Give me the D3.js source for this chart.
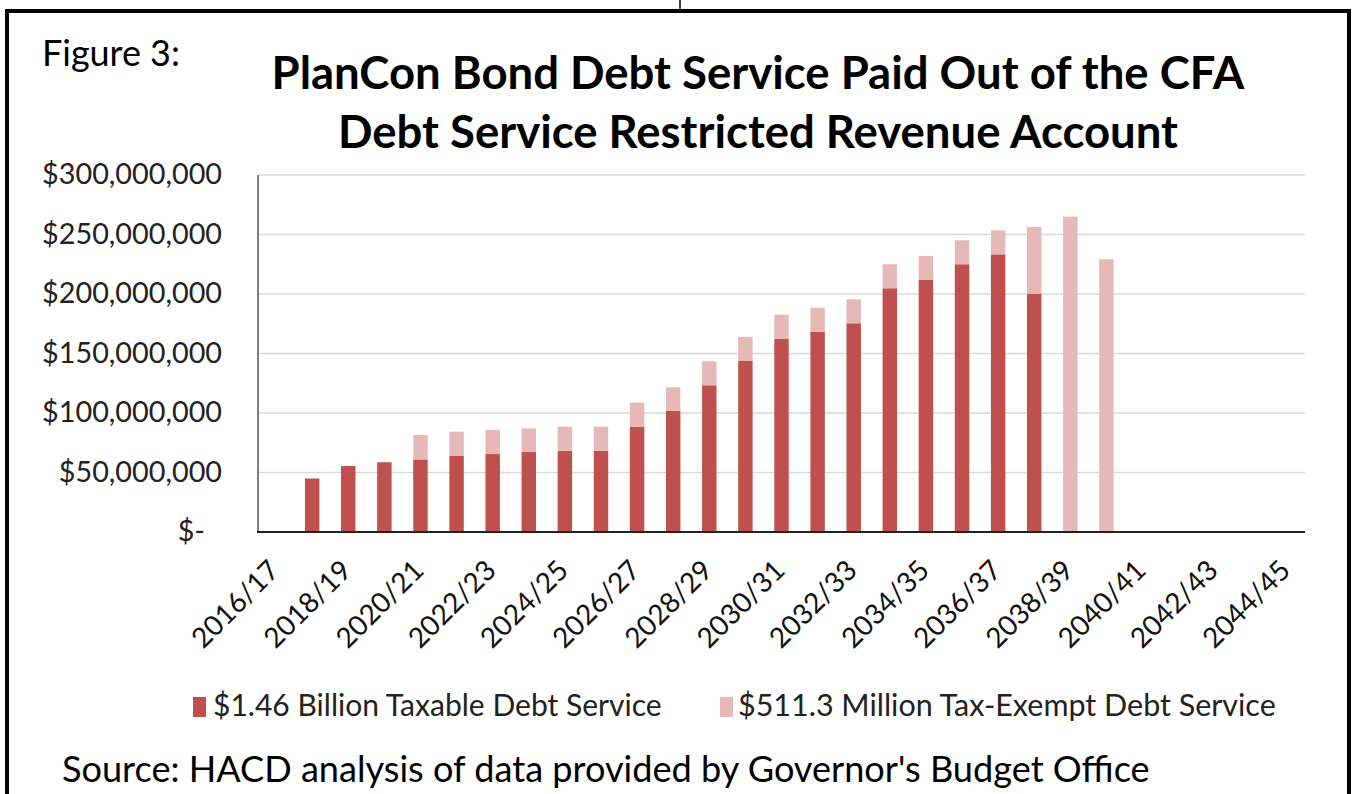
<html>
<head>
<meta charset="utf-8">
<script src="https://d3js.org/d3.v7.min.js"></script>
<style>
  body { margin: 0; background: #fff; font-family: Lato, "Open Sans", "DejaVu Sans", sans-serif; }
  text { fill: #000; }
  .grid line { stroke: #d9d9d9; stroke-width: 1.5; }
  .ylab { font-size: 24px; fill: #222; }
  .xlab { font-size: 23px; fill: #111; }
</style>
</head>
<body>
<div id="chart"></div>
<script>
// categories (fiscal years)
const years = ["2016/17","2017/18","2018/19","2019/20","2020/21","2021/22","2022/23","2023/24",
  "2024/25","2025/26","2026/27","2027/28","2028/29","2029/30","2030/31","2031/32","2032/33",
  "2033/34","2034/35","2035/36","2036/37","2037/38","2038/39","2039/40","2040/41","2041/42",
  "2042/43","2043/44","2044/45"];
// debt service, millions of dollars
const taxable = [0,45,55.5,58.6,61,63.9,65.5,67.2,68.3,68.3,88.5,101.8,123.3,143.7,162.2,168.3,
  175.4,204.8,211.8,225,233.3,200,0,0,0,0,0,0,0];
const taxExempt = [0,0,0,0,20.5,20.4,20.2,19.9,20.2,20.2,20.2,19.8,20.1,20.2,20.4,20.2,20.1,
  20.2,20.1,20.1,20.2,56.3,265,229.2,0,0,0,0,0];
const yTicks = [0,50,100,150,200,250,300];
const seriesNames = ["$1.46 Billion Taxable Debt Service", "$511.3 Million Tax-Exempt Debt Service"];
const colors = ["#c0504d", "#e6b9b8"];

const W = 1356, H = 794;
const svg = d3.select("#chart").append("svg")
  .attr("width", W).attr("height", H);

// fit a text element to a target width by adjusting font size
function fit(sel, w) {
  const fs = parseFloat(sel.style("font-size"));
  const len = sel.node().getComputedTextLength();
  sel.style("font-size", (fs * w / len) + "px");
  return sel;
}

// frame
svg.append("line").attr("x1", 680).attr("x2", 680).attr("y1", 0).attr("y2", 11)
  .attr("stroke", "#000").attr("stroke-width", 1.5);
svg.append("rect").attr("x", 7).attr("y", 11).attr("width", 1342).attr("height", 800)
  .attr("fill", "none").attr("stroke", "#000").attr("stroke-width", 4);

fit(svg.append("text").attr("x", 42).attr("y", 66).style("font-size", "26px")
  .text("Figure 3:"), 138);

const t1 = svg.append("text").attr("x", 758).attr("y", 89).attr("text-anchor", "middle")
  .style("font-size", "38px").style("font-weight", "bold")
  .text("PlanCon Bond Debt Service Paid Out of the CFA");
fit(t1, 973);
const t2 = svg.append("text").attr("x", 758).attr("y", 148).attr("text-anchor", "middle")
  .style("font-size", t1.style("font-size")).style("font-weight", "bold")
  .text("Debt Service Restricted Revenue Account");

const x = d3.scaleBand().domain(years).range([258, 1305])
  .paddingInner(0.6).paddingOuter(0.3);
const y = d3.scaleLinear().domain([0, 300]).range([532, 175]);

// gridlines
svg.append("g").attr("class", "grid")
  .selectAll("line").data(yTicks.filter(d => d > 0)).join("line")
  .attr("x1", 258).attr("x2", 1305)
  .attr("y1", d => y(d)).attr("y2", d => y(d));

// y labels
const yl = svg.append("g").selectAll("text").data(yTicks).join("text")
  .attr("class", "ylab")
  .attr("x", d => d === 0 ? 205 : 222)
  .attr("y", d => y(d) + 9)
  .attr("text-anchor", "end")
  .text(d => d === 0 ? "$-" : "$" + d3.format(",")(d * 1e6));
fit(d3.select(yl.nodes()[6]), 180);
yl.style("font-size", d3.select(yl.nodes()[6]).style("font-size"));

// stacked bars
const rows = years.map((yr, i) => ({ year: yr, a: taxable[i], b: taxExempt[i] }));
const stack = d3.stack().keys(["a", "b"])(rows);
svg.append("g").selectAll("g").data(stack).join("g")
  .attr("fill", (d, i) => colors[i])
  .selectAll("rect").data(d => d).join("rect")
  .attr("x", d => x(d.data.year))
  .attr("width", x.bandwidth())
  .attr("y", d => y(d[1]))
  .attr("height", d => y(d[0]) - y(d[1]));

// axes lines
svg.append("line").attr("x1", 258).attr("x2", 258).attr("y1", 175).attr("y2", 532)
  .attr("stroke", "#555").attr("stroke-width", 1.5);
svg.append("line").attr("x1", 257).attr("x2", 1305).attr("y1", 532).attr("y2", 532)
  .attr("stroke", "#222").attr("stroke-width", 2);

// x labels, every other year
const xl = svg.append("g").selectAll("text").data(years.filter((d, i) => i % 2 === 0)).join("text")
  .attr("class", "xlab")
  .attr("text-anchor", "end")
  .attr("transform", d => `translate(${x(d) + x.bandwidth() / 2 + 5},${572}) rotate(-45)`)
  .text(d => d);
fit(d3.select(xl.node()), 110);
xl.style("font-size", d3.select(xl.node()).style("font-size"));

// legend
const lg = [[193, 213, 449], [720, 738, 538]];
lg.forEach((p, i) => {
  svg.append("rect").attr("x", p[0]).attr("y", 697).attr("width", 13).attr("height", 20)
    .attr("fill", colors[i]);
  fit(svg.append("text").attr("x", p[1]).attr("y", 716).style("font-size", "24px")
    .style("fill", "#222").text(seriesNames[i]), p[2]);
});

fit(svg.append("text").attr("x", 62).attr("y", 782).style("font-size", "30px")
  .text("Source: HACD analysis of data provided by Governor's Budget Office"), 1088);
</script>
</body>
</html>
